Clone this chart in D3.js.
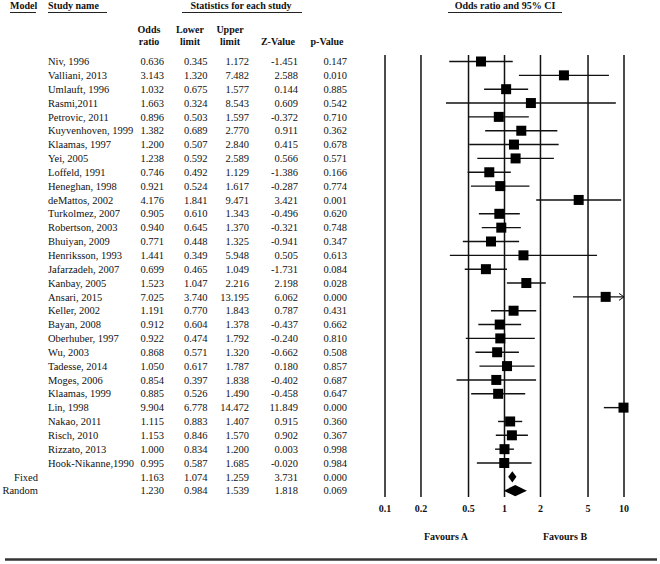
<!DOCTYPE html>
<html><head><meta charset="utf-8">
<script src="https://cdn.jsdelivr.net/npm/d3@7"></script>
<style>
html,body{margin:0;padding:0;background:#fff;}
svg{display:block;}
text{font-family:"Liberation Serif","Times New Roman",serif;fill:#111;}
</style></head>
<body><svg id="c" width="660" height="564"></svg>
<script>
const models = ["", "", "", "", "", "", "", "", "", "", "", "", "", "", "", "", "", "", "", "", "", "", "", "", "", "", "", "", "", "", "Fixed", "Random"];
const studies = ["Niv, 1996","Valliani, 2013","Umlauft, 1996","Rasmi,2011","Petrovic, 2011","Kuyvenhoven, 1999","Klaamas, 1997","Yei, 2005","Loffeld, 1991","Heneghan, 1998","deMattos, 2002","Turkolmez, 2007","Robertson, 2003","Bhuiyan, 2009","Henriksson, 1993","Jafarzadeh, 2007","Kanbay, 2005","Ansari, 2015","Keller, 2002","Bayan, 2008","Oberhuber, 1997","Wu, 2003","Tadesse, 2014","Moges, 2006","Klaamas, 1999","Lin, 1998","Nakao, 2011","Risch, 2010","Rizzato, 2013","Hook-Nikanne,1990","",""];
const oddsRatio = [0.636,3.143,1.032,1.663,0.896,1.382,1.200,1.238,0.746,0.921,4.176,0.905,0.940,0.771,1.441,0.699,1.523,7.025,1.191,0.912,0.922,0.868,1.050,0.854,0.885,9.904,1.115,1.153,1.000,0.995,1.163,1.230];
const lowerLimit = [0.345,1.320,0.675,0.324,0.503,0.689,0.507,0.592,0.492,0.524,1.841,0.610,0.645,0.448,0.349,0.465,1.047,3.740,0.770,0.604,0.474,0.571,0.617,0.397,0.526,6.778,0.883,0.846,0.834,0.587,1.074,0.984];
const upperLimit = [1.172,7.482,1.577,8.543,1.597,2.770,2.840,2.589,1.129,1.617,9.471,1.343,1.370,1.325,5.948,1.049,2.216,13.195,1.843,1.378,1.792,1.320,1.787,1.838,1.490,14.472,1.407,1.570,1.200,1.685,1.259,1.539];
const zValue = [-1.451,2.588,0.144,0.609,-0.372,0.911,0.415,0.566,-1.386,-0.287,3.421,-0.496,-0.321,-0.941,0.505,-1.731,2.198,6.062,0.787,-0.437,-0.240,-0.662,0.180,-0.402,-0.458,11.849,0.915,0.902,0.003,-0.020,3.731,1.818];
const pValue = [0.147,0.010,0.885,0.542,0.710,0.362,0.678,0.571,0.166,0.774,0.001,0.620,0.748,0.347,0.613,0.084,0.028,0.000,0.431,0.662,0.810,0.508,0.857,0.687,0.647,0.000,0.360,0.367,0.998,0.984,0.000,0.069];
const tickValues = [0.1,0.2,0.5,1,2,5,10];
const tickLabels = ["0.1","0.2","0.5","1","2","5","10"];

const svg = d3.select("#c");
const n = studies.length;
const x = d3.scaleLog().domain([0.1,10]).range([385,624]);
const y = d3.scalePoint().domain(d3.range(n)).range([61.5,490.7]);
const f3 = d3.format(".3f");
const fz = v => (v<0?"-":"") + f3(Math.abs(v));

// headers
const hdr = svg.append("g").attr("font-weight","bold").attr("font-size","10px");
function uh(txt, xc, x0, x1, anchor){
  hdr.append("text").attr("x",xc).attr("y",9).attr("text-anchor",anchor||"middle").text(txt);
  svg.append("line").attr("x1",x0).attr("x2",x1).attr("y1",12.5).attr("y2",12.5).attr("stroke","#222").attr("stroke-width",1);
}
uh("Model",10,10,36,"start");
uh("Study name",48,48,107,"start");
uh("Statistics for each study",241,182,302);
uh("Odds ratio and 95% CI",505,448,562);
const colHead = [["Odds","ratio",149],["Lower","limit",190],["Upper","limit",230],["","Z-Value",278],["","p-Value",327]];
colHead.forEach(c=>{
  hdr.append("text").attr("x",c[2]).attr("y",33).attr("text-anchor","middle").text(c[0]);
  hdr.append("text").attr("x",c[2]).attr("y",45).attr("text-anchor","middle").text(c[1]);
});

// table
const tb = svg.append("g").attr("font-size","10.5px");
const cols = [[oddsRatio,164,f3],[lowerLimit,207.5,f3],[upperLimit,249,f3],[zValue,298,fz],[pValue,347,f3]];
d3.range(n).forEach(i=>{
  const yy = y(i)+3.7;
  if(models[i]) tb.append("text").attr("x",38).attr("y",yy).attr("text-anchor","end").text(models[i]);
  if(studies[i]) tb.append("text").attr("x",48).attr("y",yy).text(studies[i]);
  cols.forEach(c=>{
    tb.append("text").attr("x",c[1]).attr("y",yy).attr("text-anchor","end").text(c[2](c[0][i]));
  });
});

// grid lines
svg.append("g").selectAll("line").data(tickValues).join("line")
  .attr("x1",d=>x(d)).attr("x2",d=>x(d)).attr("y1",55).attr("y2",497)
  .attr("stroke","#111").attr("stroke-width",1.5);

// tick labels
svg.append("g").attr("font-weight","bold").attr("font-size","10px").selectAll("text").data(tickValues).join("text")
  .attr("x",d=>x(d)).attr("y",512).attr("text-anchor","middle").text((d,i)=>tickLabels[i]);

// CI lines and squares
const plot = svg.append("g");
const nStudies = n-2;
d3.range(nStudies).forEach(i=>{
  const lo = Math.max(lowerLimit[i],0.1), hi = Math.min(upperLimit[i],10);
  plot.append("line").attr("x1",x(lo)).attr("x2",x(hi)).attr("y1",y(i)).attr("y2",y(i)).attr("stroke","#111").attr("stroke-width",1.4);
  if(upperLimit[i]>10){
    plot.append("path").attr("d",`M${x(10)-5},${y(i)-3.5}L${x(10)},${y(i)}L${x(10)-5},${y(i)+3.5}`).attr("fill","none").attr("stroke","#111").attr("stroke-width",1);
  }
  const s=10;
  plot.append("rect").attr("x",x(Math.min(oddsRatio[i],10))-s/2).attr("y",y(i)-s/2).attr("width",s).attr("height",s).attr("fill","#000");
});
// diamonds
[n-2,n-1].forEach(i=>{
  const h=5.6;
  plot.append("path").attr("d",`M${x(lowerLimit[i])},${y(i)}L${x(oddsRatio[i])},${y(i)-h}L${x(upperLimit[i])},${y(i)}L${x(oddsRatio[i])},${y(i)+h}Z`).attr("fill","#000");
});

// favours
const fv = svg.append("g").attr("font-weight","bold").attr("font-size","10px");
fv.append("text").attr("x",446).attr("y",540).attr("text-anchor","middle").text("Favours A");
fv.append("text").attr("x",565).attr("y",540).attr("text-anchor","middle").text("Favours B");

// bottom rule
svg.append("line").attr("x1",5).attr("x2",657).attr("y1",559.5).attr("y2",559.5).attr("stroke","#333").attr("stroke-width",2.5);
</script></body></html>
